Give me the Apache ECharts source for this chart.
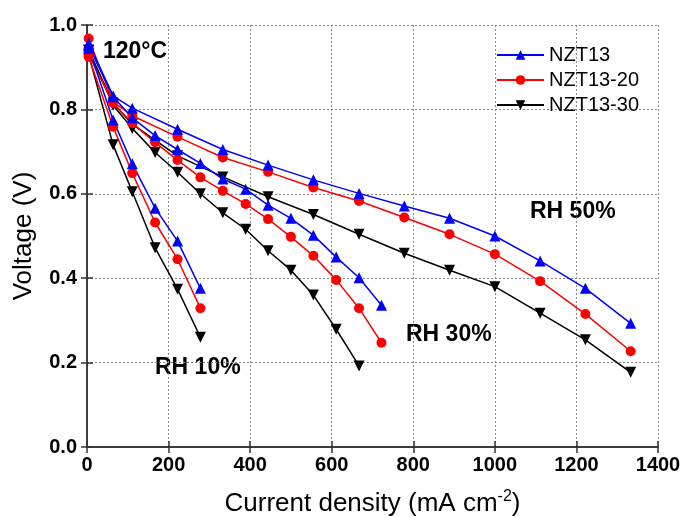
<!DOCTYPE html>
<html>
<head>
<meta charset="utf-8">
<script src="https://cdn.jsdelivr.net/npm/echarts@6/dist/echarts.min.js"></script>
<style>
html,body{margin:0;padding:0;background:#fff;}
#chart{width:684px;height:517px;}
</style>
</head>
<body>
<div id="chart"></div>
<script>
// Tick labels / axes
const xTicks = [0, 200, 400, 600, 800, 1000, 1200, 1400];
const yTicks = [0.0, 0.2, 0.4, 0.6, 0.8, 1.0];
const seriesNames = ['NZT13', 'NZT13-20', 'NZT13-30'];

// Current density (mA cm-2) for each RH condition
const xRH10 = [4, 64, 111, 167, 222, 278];
const xRH30 = [4, 64, 111, 167, 222, 278, 333, 389, 444, 500, 555, 611, 667, 722];
const xRH50 = [4, 64, 111, 222, 333, 444, 555, 667, 778, 889, 1000, 1111, 1222, 1333];

// Voltage (V)
const nzt13_RH10   = [0.945, 0.775, 0.671, 0.566, 0.488, 0.376];
const nzt13_20_RH10 = [0.925, 0.759, 0.649, 0.532, 0.445, 0.329];
const nzt13_30_RH10 = [0.930, 0.716, 0.605, 0.472, 0.374, 0.260];

const nzt13_RH30   = [0.950, 0.830, 0.780, 0.738, 0.705, 0.672, 0.635, 0.611, 0.573, 0.542, 0.502, 0.450, 0.401, 0.336];
const nzt13_20_RH30 = [0.930, 0.815, 0.767, 0.722, 0.680, 0.639, 0.607, 0.576, 0.540, 0.498, 0.453, 0.396, 0.329, 0.247];
const nzt13_30_RH30 = [0.940, 0.810, 0.755, 0.698, 0.651, 0.600, 0.555, 0.516, 0.465, 0.419, 0.360, 0.279, 0.192];

const nzt13_RH50   = [0.957, 0.832, 0.803, 0.753, 0.705, 0.668, 0.633, 0.601, 0.571, 0.542, 0.500, 0.441, 0.376, 0.293];
const nzt13_20_RH50 = [0.968, 0.818, 0.785, 0.735, 0.686, 0.652, 0.615, 0.583, 0.544, 0.504, 0.457, 0.393, 0.315, 0.227];
const nzt13_30_RH50 = [0.940, 0.815, 0.765, 0.690, 0.640, 0.593, 0.551, 0.504, 0.459, 0.419, 0.380, 0.317, 0.254, 0.177];

const FONT = '"Liberation Sans", Arial, sans-serif';

function zip(xs, ys) { return ys.map((y, i) => [xs[i], y]); }

const styles = {
  'NZT13':    { color: '#0000ff', symbol: 'triangle', rotate: 0, size: 11 },
  'NZT13-20': { color: '#ff0000', symbol: 'circle',   rotate: 0, size: 10 },
  'NZT13-30': { color: '#000000', symbol: 'triangle', rotate: 180, size: 11 }
};

function mk(name, xs, ys) {
  const s = styles[name];
  return {
    name: name,
    type: 'line',
    data: zip(xs, ys),
    symbol: s.symbol,
    symbolRotate: s.rotate,
    symbolSize: s.size,
    showSymbol: true,
    lineStyle: { color: s.color, width: 1.5 },
    itemStyle: { color: s.color, borderWidth: 0 },
    emphasis: { disabled: true },
    animation: false
  };
}

const series = [
  mk('NZT13-30', xRH10, nzt13_30_RH10),
  mk('NZT13-30', xRH30, nzt13_30_RH30),
  mk('NZT13-30', xRH50, nzt13_30_RH50),
  mk('NZT13-20', xRH10, nzt13_20_RH10),
  mk('NZT13-20', xRH30, nzt13_20_RH30),
  mk('NZT13-20', xRH50, nzt13_20_RH50),
  mk('NZT13', xRH10, nzt13_RH10),
  mk('NZT13', xRH30, nzt13_RH30),
  mk('NZT13', xRH50, nzt13_RH50)
];

const chart = echarts.init(document.getElementById('chart'), null, { renderer: 'canvas' });

const axisLineStyle = { color: '#333333', width: 1.5 };

chart.setOption({
  animation: false,
  backgroundColor: '#ffffff',
  grid: { left: 87, right: 26, top: 25, bottom: 70, containLabel: false, outerBoundsMode: 'none' },
  legend: {
    data: seriesNames,
    orient: 'vertical',
    left: 491,
    top: 40,
    itemWidth: 47,
    itemHeight: 12,
    itemGap: 5,
    textStyle: { fontFamily: FONT, fontSize: 20, color: '#000' }
  },
  xAxis: [{
    type: 'value',
    min: xTicks[0],
    max: xTicks[xTicks.length - 1],
    interval: 200,
    name: '{n|Current density (mA cm}{s|-2}{n|)}',
    nameLocation: 'middle',
    nameGap: 42,
    nameTextStyle: {
      rich: {
        n: { fontFamily: FONT, fontSize: 26, color: '#000', verticalAlign: 'bottom' },
        s: { fontFamily: FONT, fontSize: 16, color: '#000', verticalAlign: 'top', padding: [0, 0, 12, 0] }
      }
    },
    axisLine: { show: true, onZero: false, lineStyle: axisLineStyle },
    axisTick: { show: true, inside: true, length: 6, lineStyle: axisLineStyle },
    axisLabel: { fontFamily: FONT, fontSize: 20, fontWeight: 'bold', color: '#000', margin: 8,
      formatter: v => String(v) },
    splitLine: { show: true, lineStyle: { color: '#888', type: [2, 2], width: 1 } }
  }, {
    type: 'value',
    position: 'top',
    min: 0, max: 1400, interval: 200,
    axisLine: { show: true, lineStyle: axisLineStyle },
    axisTick: { show: true, inside: true, length: 6, lineStyle: axisLineStyle },
    axisLabel: { show: false },
    splitLine: { show: false }
  }],
  yAxis: [{
    type: 'value',
    min: yTicks[0],
    max: yTicks[yTicks.length - 1],
    interval: 0.2,
    name: 'Voltage (V)',
    nameLocation: 'middle',
    nameGap: 50,
    nameTextStyle: { fontFamily: FONT, fontSize: 26, color: '#000' },
    axisLine: { show: true, onZero: false, lineStyle: axisLineStyle },
    axisTick: { show: true, inside: true, length: 6, lineStyle: axisLineStyle },
    axisLabel: { fontFamily: FONT, fontSize: 20, fontWeight: 'bold', color: '#000', margin: 10,
      formatter: v => v.toFixed(1) },
    splitLine: { show: true, lineStyle: { color: '#888', type: [2, 2], width: 1 } }
  }, {
    type: 'value',
    position: 'right',
    min: 0, max: 1, interval: 0.2,
    axisLine: { show: true, lineStyle: axisLineStyle },
    axisTick: { show: true, inside: true, length: 6, lineStyle: axisLineStyle },
    axisLabel: { show: false },
    splitLine: { show: false }
  }],
  series: series,
  graphic: [
    { type: 'text', left: 103, top: 40, style: { text: '120°C', fontFamily: FONT, fontSize: 23, fontWeight: 'bold', fill: '#000' } },
    { type: 'text', left: 155, top: 356, style: { text: 'RH 10%', fontFamily: FONT, fontSize: 23, fontWeight: 'bold', fill: '#000' } },
    { type: 'text', left: 406, top: 323, style: { text: 'RH 30%', fontFamily: FONT, fontSize: 23, fontWeight: 'bold', fill: '#000' } },
    { type: 'text', left: 530, top: 200, style: { text: 'RH 50%', fontFamily: FONT, fontSize: 23, fontWeight: 'bold', fill: '#000' } }
  ]
});
</script>
</body>
</html>
